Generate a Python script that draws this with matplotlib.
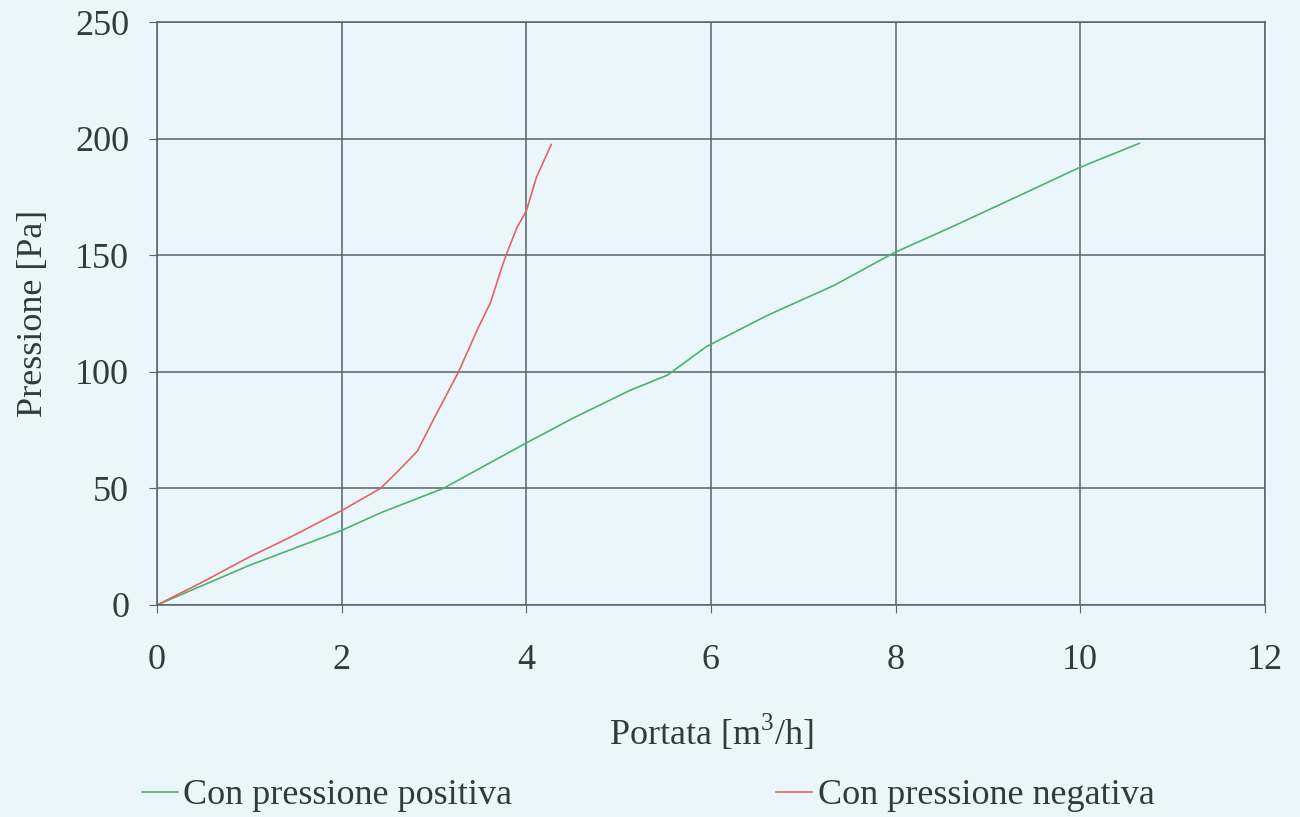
import matplotlib
matplotlib.use("Agg")
import matplotlib.pyplot as plt

# data
portata_pos = [0, 1.0, 2.0, 2.42, 3.10, 4.0, 4.5, 5.12, 5.53, 5.95, 6.6, 7.33, 7.98, 8.6, 9.2, 9.98, 10.64]
pressione_pos = [0, 17, 32, 39.5, 50, 69.5, 80, 92, 98.6, 110.8, 124, 137, 151, 162, 173, 187.4, 198]

portata_neg = [0, 0.5, 1.0, 1.44, 2.0, 2.42, 2.6, 2.82, 3.0, 3.26, 3.48, 3.61, 3.75, 3.80, 3.90, 4.0, 4.11, 4.27]
pressione_neg = [0, 10, 20.6, 29, 40.5, 50, 57, 66, 80, 99.5, 119, 129.5, 146.6, 152, 162, 169, 183.5, 197.5]

x_ticks = [0, 2, 4, 6, 8, 10, 12]
y_ticks = [0, 50, 100, 150, 200, 250]

bg = '#ebf6fb'
txt = '#2f3c3d'
grid = '#56636a'

plt.rcParams['font.family'] = ['Liberation Serif', 'DejaVu Serif']
plt.rcParams['font.size'] = 26
plt.rcParams['mathtext.fontset'] = 'custom'
plt.rcParams['mathtext.rm'] = 'Liberation Serif'

fig = plt.figure(figsize=(13, 8.17), dpi=100, facecolor=bg)
ax = fig.add_axes([0.1208, 0.2595, 0.8522, 0.7135], facecolor=bg)

l1, = ax.plot(portata_pos, pressione_pos, color='#4fb070', lw=1.2, label='Con pressione positiva')
l2, = ax.plot(portata_neg, pressione_neg, color='#e46464', lw=1.2, label='Con pressione negativa')

ax.set_xlim(0, 12)
ax.set_ylim(0, 250)
ax.set_xticks(x_ticks)
ax.set_yticks(y_ticks)
ax.grid(True, color=grid, lw=1.1)
ax.set_axisbelow(True)
for s in ax.spines.values():
    s.set_color(grid)
    s.set_linewidth(1.1)

ax.tick_params(axis='x', direction='out', length=6, pad=22, colors=grid, labelcolor=txt)
ax.tick_params(axis='y', direction='out', length=6, pad=14, colors=grid, labelcolor=txt)

ax.set_xlabel(r'Portata [m$^\mathrm{3}$/h]', color=txt, labelpad=26)
ax.set_ylabel('Pressione [Pa]', color=txt, labelpad=18)

leg_kw = dict(frameon=False, handlelength=1.0, handletextpad=0.15, labelcolor=txt,
              borderaxespad=0, borderpad=0)
leg1 = fig.legend(handles=[l1], loc='center left', bbox_to_anchor=(0.109, 0.026), **leg_kw)
fig.legend(handles=[l2], loc='center left', bbox_to_anchor=(0.597, 0.026), **leg_kw)

fig.savefig('out.png', dpi=100, facecolor=bg)
